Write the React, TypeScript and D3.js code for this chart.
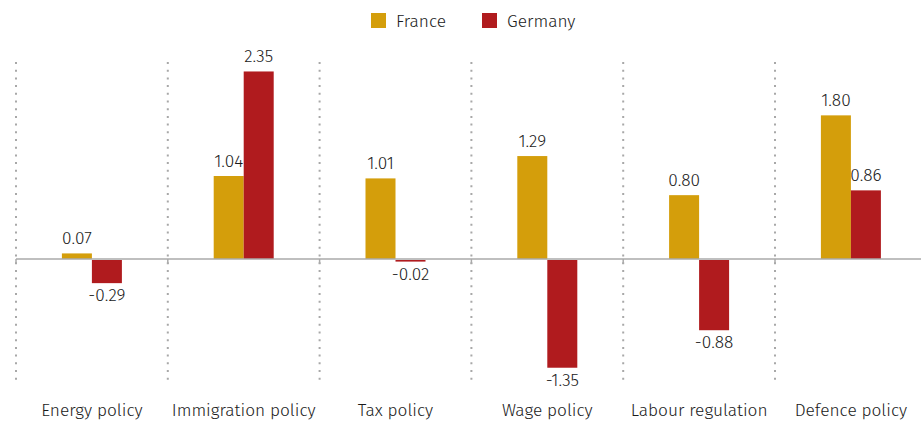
import React, { useRef, useEffect } from 'react';
import * as d3 from 'd3';

const categories = ['Energy policy', 'Immigration policy', 'Tax policy', 'Wage policy', 'Labour regulation', 'Defence policy'];
const seriesNames = ['France', 'Germany'];
const franceValues = [0.07, 1.04, 1.01, 1.29, 0.8, 1.8];
const germanyValues = [-0.29, 2.35, -0.02, -1.35, -0.88, 0.86];
const colors = ['#D49E0B', '#B01B1E'];

const width = 921;
const height = 421;
const font = "'Fira Sans', 'Open Sans', 'Noto Sans', sans-serif";
const fontSize = '17.3px';
const fmt = (v: number) => (v < 0 ? '-' : '') + d3.format('.2f')(Math.abs(v));

const App = () => {
  const svgRef = useRef<SVGSVGElement | null>(null);

  useEffect(() => {
    const svg = d3.select(svgRef.current);
    svg.selectAll('*').remove();

    const x = d3.scaleBand().domain(categories).range([16, 16 + 151.8 * 6]).paddingInner(0).paddingOuter(0);
    const sub = d3.scaleBand().domain(seriesNames).range([-30, 30]);
    // zero at 259
    const unit = 79.8;
    const y = d3.scaleLinear().domain([-1.5, 2.5]).range([259 + 1.5 * unit, 259 - 2.5 * unit]);

    // dotted separators
    svg.append('g')
      .selectAll('line')
      .data(categories)
      .join('line')
      .attr('x1', d => (x(d) as number))
      .attr('x2', d => (x(d) as number))
      .attr('y1', 62)
      .attr('y2', 380)
      .attr('stroke', '#a8a8a8')
      .attr('stroke-width', 2)
      .attr('stroke-dasharray', '2,5.7');

    // small ticks at zero
    svg.append('g')
      .selectAll('line')
      .data(categories)
      .join('line')
      .attr('x1', d => (x(d) as number))
      .attr('x2', d => (x(d) as number))
      .attr('y1', y(0))
      .attr('y2', y(0) + 5)
      .attr('stroke', '#aaa')
      .attr('stroke-width', 1.5);

    const rows = categories.map((c, i) => ({ cat: c, vals: [franceValues[i], germanyValues[i]] }));

    const groups = svg.append('g')
      .selectAll('g')
      .data(rows)
      .join('g')
      .attr('transform', d => `translate(${(x(d.cat) as number) + x.bandwidth() / 2},0)`);

    groups.selectAll('rect')
      .data(d => d.vals.map((v, j) => ({ v, s: seriesNames[j], j })))
      .join('rect')
      .attr('x', d => sub(d.s) as number)
      .attr('width', sub.bandwidth())
      .attr('y', d => (d.v >= 0 ? y(d.v) : y(0) + 1))
      .attr('height', d => Math.abs(y(d.v) - y(0)))
      .attr('fill', d => colors[d.j]);

    // zero line
    svg.append('line')
      .attr('x1', 16)
      .attr('x2', width)
      .attr('y1', y(0))
      .attr('y2', y(0))
      .attr('stroke', '#aaa')
      .attr('stroke-width', 1.5);

    groups.selectAll('text')
      .data(d => d.vals.map((v, j) => ({ v, s: seriesNames[j], j })))
      .join('text')
      .attr('x', d => (sub(d.s) as number) + sub.bandwidth() / 2)
      .attr('y', d => (d.v >= 0 ? y(d.v) - 9 : y(d.v) + 19))
      .attr('text-anchor', 'middle')
      .style('font-family', font)
      .style('font-weight', 300)
      .style('font-size', fontSize)
      .attr('fill', '#1a1a1a')
      .text(d => fmt(d.v));

    // category labels
    svg.append('g')
      .selectAll('text')
      .data(categories)
      .join('text')
      .attr('x', d => (x(d) as number) + x.bandwidth() / 2)
      .attr('y', 416)
      .attr('text-anchor', 'middle')
      .style('font-family', font)
      .style('font-weight', 300)
      .style('font-size', fontSize)
      .attr('fill', '#1a1a1a')
      .text(d => d);

    // legend
    const legendX = [371, 482];
    const legend = svg.append('g')
      .selectAll('g')
      .data(seriesNames)
      .join('g')
      .attr('transform', (d, i) => `translate(${legendX[i]},13)`);
    legend.append('rect')
      .attr('width', 15)
      .attr('height', 15)
      .attr('fill', (d, i) => colors[i]);
    legend.append('text')
      .attr('x', 25)
      .attr('y', 14)
      .style('font-family', font)
      .style('font-weight', 300)
      .style('font-size', fontSize)
      .attr('fill', '#1a1a1a')
      .text(d => d);
  }, []);

  return (
    <svg
      ref={svgRef}
      width={width}
      height={height}
      style={{ position: 'absolute', left: 0, top: 0, background: '#fff' }}
    />
  );
};

export default App;
